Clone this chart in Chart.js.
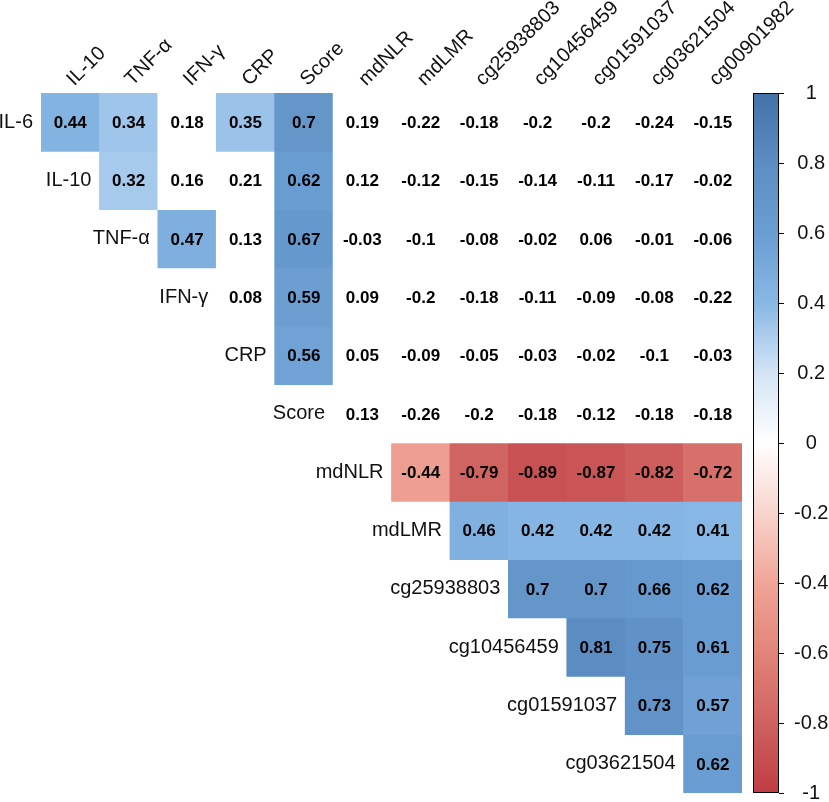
<!DOCTYPE html>
<html>
<head>
<meta charset="utf-8">
<title>Correlation heatmap</title>
<script src="https://cdn.jsdelivr.net/npm/chart.js@4.4.1/dist/chart.umd.min.js"></script>
<style>
  body { margin: 0; background: #fff; }
  #wrap { width: 829px; height: 802px; }
</style>
</head>
<body>
<div id="wrap"><canvas id="corr-chart"></canvas></div>
<script>
// Column and row names of the upper triangle
const colLabels = ['IL-10', 'TNF-α', 'IFN-γ', 'CRP', 'Score', 'mdNLR', 'mdLMR',
    'cg25938803', 'cg10456459', 'cg01591037', 'cg03621504', 'cg00901982'];
const rowLabels = ['IL-6', 'IL-10', 'TNF-α', 'IFN-γ', 'CRP', 'Score', 'mdNLR', 'mdLMR',
    'cg25938803', 'cg10456459', 'cg01591037', 'cg03621504'];

// Each row starts at its diagonal cell
const rowIL6 = [0.44, 0.34, 0.18, 0.35, 0.7, 0.19, -0.22, -0.18, -0.2, -0.2, -0.24, -0.15];
const rowIL10 = [0.32, 0.16, 0.21, 0.62, 0.12, -0.12, -0.15, -0.14, -0.11, -0.17, -0.02];
const rowTNF = [0.47, 0.13, 0.67, -0.03, -0.1, -0.08, -0.02, 0.06, -0.01, -0.06];
const rowIFN = [0.08, 0.59, 0.09, -0.2, -0.18, -0.11, -0.09, -0.08, -0.22];
const rowCRP = [0.56, 0.05, -0.09, -0.05, -0.03, -0.02, -0.1, -0.03];
const rowScore = [0.13, -0.26, -0.2, -0.18, -0.12, -0.18, -0.18];
const rowNLR = [-0.44, -0.79, -0.89, -0.87, -0.82, -0.72];
const rowLMR = [0.46, 0.42, 0.42, 0.42, 0.41];
const rowCg259 = [0.7, 0.7, 0.66, 0.62];
const rowCg104 = [0.81, 0.75, 0.61];
const rowCg015 = [0.73, 0.57];
const rowCg036 = [0.62];

const corrRows = [rowIL6, rowIL10, rowTNF, rowIFN, rowCRP, rowScore, rowNLR, rowLMR,
    rowCg259, rowCg104, rowCg015, rowCg036];

// cells below this |r| are left blank (not significant)
const sigLevel = 0.3;

// colour ramp, value -> colour
const palette = [
    [-1.0, [191, 61, 67]],
    [-0.8, [207, 98, 96]],
    [-0.6, [226, 132, 121]],
    [-0.4, [240, 165, 151]],
    [-0.2, [248, 212, 205]],
    [0.0, [255, 255, 255]],
    [0.2, [212, 228, 245]],
    [0.4, [136, 184, 229]],
    [0.6, [106, 157, 209]],
    [0.8, [93, 142, 195]],
    [1.0, [66, 114, 168]]
];

function rampColor(v) {
    for (let i = 1; i < palette.length; i++) {
        if (v <= palette[i][0]) {
            const [v0, c0] = palette[i - 1];
            const [v1, c1] = palette[i];
            const t = (v - v0) / (v1 - v0);
            const c = c0.map((a, k) => Math.round(a + (c1[k] - a) * t));
            return `rgb(${c[0]},${c[1]},${c[2]})`;
        }
    }
    return 'rgb(66,114,168)';
}

function cellColor(v) {
    return Math.abs(v) < sigLevel ? '#ffffff' : rampColor(v);
}

const FONT = '"Liberation Sans", Arial, sans-serif';

// one floating-bar dataset per row
const datasets = corrRows.map((row, i) => ({
    label: rowLabels[i],
    data: row.map((v, k) => ({ x: colLabels[i + k], y: [i, i + 1] })),
    backgroundColor: row.map(cellColor),
    borderWidth: 0,
    borderSkipped: false,
    barPercentage: 1,
    categoryPercentage: 1,
    grouped: false
}));

// values in the cells and the row names left of the diagonal
const cellText = {
    id: 'cellText',
    afterDatasetsDraw(chart) {
        const ctx = chart.ctx;
        ctx.save();
        ctx.textBaseline = 'middle';
        corrRows.forEach((row, i) => {
            const meta = chart.getDatasetMeta(i);
            meta.data.forEach((bar, k) => {
                const p = bar.getProps(['x', 'y', 'base', 'width'], true);
                const cy = (p.y + p.base) / 2;
                ctx.font = 'bold 17px ' + FONT;
                ctx.fillStyle = '#000';
                ctx.textAlign = 'center';
                ctx.fillText(String(row[k]), p.x, cy + 1);
                if (k === 0) {
                    ctx.font = '20px ' + FONT;
                    ctx.fillStyle = '#111';
                    ctx.textAlign = 'right';
                    ctx.fillText(rowLabels[i], p.x - p.width / 2 - 8, cy);
                }
            });
        });
        ctx.restore();
    }
};

// colour bar drawn along the cbar scale
const colorBar = {
    id: 'colorBar',
    afterDraw(chart) {
        const scale = chart.scales.cbar;
        const ctx = chart.ctx;
        const x0 = scale.left + 11;
        const w = 26;
        const top = scale.getPixelForValue(1);
        const bottom = scale.getPixelForValue(-1);
        const grad = ctx.createLinearGradient(0, bottom, 0, top);
        palette.forEach(([v]) => grad.addColorStop((v + 1) / 2, rampColor(v)));
        ctx.save();
        ctx.fillStyle = grad;
        ctx.fillRect(x0, top, w, bottom - top);
        ctx.strokeStyle = '#000';
        ctx.lineWidth = 1;
        ctx.strokeRect(x0 + 0.5, top + 0.5, w - 1, bottom - top - 1);
        ctx.beginPath();
        scale.ticks.forEach(t => {
            const y = Math.round(scale.getPixelForValue(t.value)) + 0.5;
            ctx.moveTo(x0 + w, y);
            ctx.lineTo(x0 + w + 5, y);
        });
        ctx.stroke();
        ctx.restore();
    }
};

const corrChart = new Chart(document.getElementById('corr-chart'), {
    type: 'bar',
    data: { labels: colLabels, datasets: datasets },
    options: {
        responsive: true,
        maintainAspectRatio: false,
        animation: false,
        layout: { padding: { left: 41, right: 0, top: 0, bottom: 9 } },
        plugins: {
            legend: { display: false },
            tooltip: { enabled: false }
        },
        scales: {
            x: {
                type: 'category',
                position: 'top',
                offset: true,
                grid: { display: false, drawTicks: false },
                border: { display: false },
                ticks: {
                    minRotation: 45,
                    maxRotation: 45,
                    autoSkip: false,
                    padding: 2,
                    labelOffset: 17,
                    color: '#111',
                    font: { family: FONT, size: 20 }
                },
                afterFit: s => { s.height = 93; }
            },
            y: {
                type: 'linear',
                min: 0,
                max: 12,
                reverse: true,
                display: false
            },
            cbar: {
                type: 'linear',
                position: 'right',
                min: -1,
                max: 1,
                grid: { display: false, drawTicks: false },
                border: { display: false },
                ticks: {
                    stepSize: 0.2,
                    crossAlign: 'center',
                    padding: 52,
                    color: '#111',
                    font: { family: FONT, size: 20 },
                    callback: v => String(Math.round(v * 10) / 10)
                },
                // keep the tick padding out of the vertical layout
                afterFit: s => { s.width = 87; s.paddingTop = 0; s.paddingBottom = 0; }
            }
        }
    },
    plugins: [cellText, colorBar]
});
</script>
</body>
</html>
